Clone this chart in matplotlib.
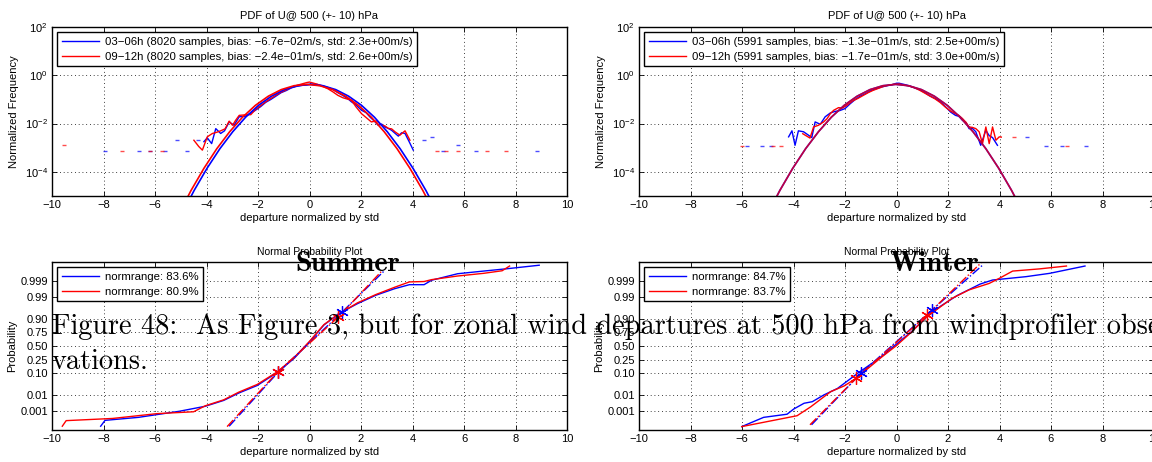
import numpy as np
import matplotlib
matplotlib.use("Agg")
import matplotlib.pyplot as plt
from statistics import NormalDist

plt.rcParams['font.family'] = ['Liberation Sans', 'DejaVu Sans']
plt.rcParams['font.size'] = 8

# ---- data: PDF panels (x = departure / std, y = normalized frequency) ----
fit_y = [1.6e-6, 1.7e-5, 1.4e-4, 9.1e-4, 4.6e-3, 1.84e-2, 5.7e-2, 0.136, 0.255, 0.37, 0.42,
         0.37, 0.255, 0.136, 5.7e-2, 1.84e-2, 4.6e-3, 9.1e-4, 1.4e-4, 1.7e-5, 1.6e-6]
fit_x_sum_b = [-4.98, -4.48, -3.98, -3.48, -2.98, -2.48, -1.98, -1.48, -0.98, -0.48, 0.02,
               0.52, 1.02, 1.52, 2.02, 2.52, 3.02, 3.52, 4.02, 4.52, 5.02]
fit_x_sum_r = [-5.1, -4.6, -4.1, -3.6, -3.1, -2.6, -2.1, -1.6, -1.1, -0.6, -0.1,
               0.4, 0.9, 1.4, 1.9, 2.4, 2.9, 3.4, 3.9, 4.4, 4.9]
fit_x_win = [-5.03, -4.53, -4.03, -3.53, -3.03, -2.53, -2.03, -1.53, -1.03, -0.53, -0.03,
             0.47, 0.97, 1.47, 1.97, 2.47, 2.97, 3.47, 3.97, 4.47, 4.97]

sum_b_x = [-4.10, -3.97, -3.80, -3.64, -3.45, -3.30, -3.12, -2.93, -2.73, -2.50, -2.30, -2.10,
           -1.90, -1.70, -1.50, -1.30, -1.10, -0.90, -0.70, -0.50, -0.30, -0.10, 0.10, 0.30,
           0.50, 0.70, 0.90, 1.10, 1.30, 1.50, 1.63, 1.80, 2.02, 2.20, 2.34, 2.50, 2.67, 2.80,
           2.93, 3.06, 3.19, 3.32, 3.45, 3.58, 3.71, 3.87, 4.03]
sum_b_y = [0.00178, 0.00257, 0.00148, 0.00617, 0.00389, 0.00501, 0.0117, 0.00851, 0.0191,
           0.0200, 0.0263, 0.0355, 0.0501, 0.0759, 0.100, 0.138, 0.191, 0.234, 0.302, 0.347,
           0.380, 0.398, 0.437, 0.417, 0.372, 0.316, 0.263, 0.191, 0.145, 0.105, 0.0794,
           0.0603, 0.0355, 0.0282, 0.0191, 0.0132, 0.00851, 0.00955, 0.00724, 0.00631,
           0.00525, 0.00398, 0.00302, 0.00417, 0.00389, 0.00178, 0.000794]
sum_r_x = [-4.49, -4.30, -4.16, -3.97, -3.77, -3.60, -3.45, -3.28, -3.12, -2.99, -2.86, -2.73,
           -2.50, -2.28, -2.10, -1.90, -1.70, -1.50, -1.30, -1.10, -0.90, -0.70, -0.50, -0.30,
           -0.10, 0.00, 0.10, 0.30, 0.50, 0.70, 0.90, 1.10, 1.30, 1.45, 1.63, 1.80, 2.02, 2.20,
           2.40, 2.60, 2.80, 2.93, 3.06, 3.19, 3.32, 3.51, 3.71, 3.90]
sum_r_y = [0.00204, 0.00112, 0.000794, 0.00282, 0.00389, 0.00437, 0.00501, 0.00603, 0.0126,
           0.00851, 0.0141, 0.0219, 0.0229, 0.0234, 0.0380, 0.0550, 0.0794, 0.110, 0.151,
           0.200, 0.251, 0.316, 0.380, 0.437, 0.501, 0.525, 0.490, 0.427, 0.355, 0.282, 0.209,
           0.148, 0.117, 0.105, 0.0933, 0.0501, 0.0257, 0.0178, 0.0117, 0.0129, 0.00851,
           0.00794, 0.00631, 0.00603, 0.00457, 0.00331, 0.00501, 0.00204]
sum_b_tail_x = [-7.94, -6.64, -6.20, -5.63, -5.13, -4.77, -4.34, 4.45, 4.74, 5.17, 5.75, 6.47, 8.85]
sum_b_tail_y = [7.1e-4, 7.1e-4, 7.1e-4, 7.1e-4, 2.1e-3, 7.1e-4, 2.1e-3, 2.1e-3, 2.7e-3,
                7.1e-4, 1.35e-3, 7.1e-4, 7.1e-4]
sum_r_tail_x = [-9.52, -7.29, -6.21, -5.72, 4.96, 5.32, 5.76, 6.90, 7.62]
sum_r_tail_y = [1.35e-3, 7.1e-4, 7.1e-4, 7.1e-4, 7.1e-4, 7.1e-4, 7.1e-4, 7.1e-4, 7.1e-4]

win_b_x = [-4.19, -4.06, -3.94, -3.81, -3.61, -3.42, -3.29, -3.16, -2.96, -2.77, -2.57, -2.40,
           -2.20, -2.00, -1.80, -1.60, -1.40, -1.20, -1.00, -0.80, -0.60, -0.40, -0.20, 0.00,
           0.10, 0.30, 0.50, 0.70, 0.90, 1.10, 1.30, 1.50, 1.70, 1.91, 2.10, 2.29, 2.42, 2.56,
           2.70, 2.82, 2.95, 3.08, 3.27, 3.47, 3.60, 3.73, 3.92]
win_b_y = [0.00282, 0.00501, 0.00126, 0.00501, 0.00457, 0.00331, 0.00263, 0.0117, 0.00933,
           0.0191, 0.0275, 0.0316, 0.0347, 0.0417, 0.0661, 0.100, 0.138, 0.174, 0.229, 0.275,
           0.324, 0.363, 0.398, 0.468, 0.468, 0.417, 0.363, 0.302, 0.251, 0.191, 0.138, 0.110,
           0.0794, 0.0490, 0.0302, 0.0219, 0.0200, 0.0138, 0.0110, 0.00617, 0.00631, 0.00457,
           0.00126, 0.00525, 0.00316, 0.00263, 0.00126]
win_r_x = [-3.64, -3.36, -3.22, -3.03, -2.83, -2.70, -2.57, -2.44, -2.25, -2.10, -1.90, -1.70,
           -1.50, -1.30, -1.10, -0.90, -0.70, -0.50, -0.30, -0.10, 0.10, 0.30, 0.50, 0.70,
           0.90, 1.10, 1.30, 1.50, 1.70, 1.90, 2.10, 2.29, 2.42, 2.56, 2.70, 2.82, 2.95, 3.08,
           3.21, 3.34, 3.47, 3.60, 3.73, 3.86, 3.99, 4.07]
win_r_y = [0.00380, 0.00251, 0.00724, 0.00851, 0.0117, 0.0158, 0.0257, 0.0355, 0.0457, 0.0437,
           0.0603, 0.0871, 0.110, 0.145, 0.191, 0.240, 0.288, 0.347, 0.389, 0.427, 0.437,
           0.398, 0.355, 0.302, 0.240, 0.182, 0.138, 0.105, 0.0741, 0.0479, 0.0331, 0.0257,
           0.0219, 0.0162, 0.0112, 0.00724, 0.00692, 0.00617, 0.00457, 0.00148, 0.00724,
           0.00148, 0.00724, 0.00204, 0.00282, 0.00275]
win_b_tail_x = [-5.79, -5.23, -4.86, 5.07, 5.79, 6.43, 7.36]
win_b_tail_y = [1.23e-3, 1.23e-3, 1.23e-3, 2.75e-3, 1.23e-3, 1.23e-3, 1.23e-3]
win_r_tail_x = [-6.00, -4.78, -4.50, 4.57, 6.64]
win_r_tail_y = [1.23e-3, 1.23e-3, 1.23e-3, 2.75e-3, 1.23e-3]

# ---- data: normal probability panels (x = departure / std, p = probability) ----
np_sum_b_x = [-8.11, -7.94, -6.64, -5.06, -4.05, -3.33, -2.75, -2.03, -1.24, -0.59, 0.00, 0.56,
              1.14, 1.86, 2.58, 3.30, 3.88, 4.45, 4.74, 5.75, 6.76, 7.62, 8.92]
np_sum_b_p = [6.7e-5, 2.0e-4, 3.4e-4, 9.4e-4, 2.05e-3, 4.8e-3, 0.0125, 0.030, 0.106, 0.281,
              0.579, 0.841, 0.939, 0.978, 0.9922, 0.9968, 0.99825, 0.99825, 0.99913, 0.99971,
              0.99982, 0.99988, 0.99994]
np_sum_r_x = [-9.60, -9.45, -7.65, -5.92, -4.50, -4.05, -3.33, -2.75, -2.03, -1.24, -0.59, 0.00,
              0.56, 1.14, 1.86, 2.58, 3.30, 3.88, 4.45, 4.74, 5.75, 6.76, 7.48, 7.77]
np_sum_r_p = [6.7e-5, 1.9e-4, 2.8e-4, 6.4e-4, 8.7e-4, 2.2e-3, 5.2e-3, 0.0139, 0.0336, 0.111,
              0.291, 0.587, 0.846, 0.936, 0.980, 0.9929, 0.9974, 0.99886, 0.99893, 0.99921,
              0.99957, 0.99973, 0.99983, 0.99993]
np_win_b_x = [-6.01, -5.16, -4.25, -3.99, -3.59, -3.27, -2.82, -2.29, -1.51, -0.57, -0.20, 0.57,
              1.14, 1.71, 2.35, 3.25, 3.73, 5.03, 5.95, 7.32]
np_win_b_p = [6.2e-5, 3.4e-4, 5.8e-4, 1.35e-3, 3.2e-3, 4.0e-3, 9.9e-3, 0.0217, 0.0968, 0.309,
              0.456, 0.749, 0.911, 0.971, 0.9918, 0.99841, 0.99916, 0.99952, 0.99973, 0.99993]
np_win_r_x = [-6.01, -3.86, -3.33, -2.55, -2.03, -1.57, -0.57, 0.00, 0.57, 1.18, 2.16, 2.81,
              3.60, 3.99, 4.51, 5.56, 6.60]
np_win_r_p = [6.2e-5, 4.5e-4, 1.9e-3, 0.015, 0.0287, 0.0618, 0.3015, 0.508, 0.742, 0.919,
              0.9884, 0.9962, 0.99856, 0.99936, 0.99982, 0.99988, 0.99993]

# reference lines (ends + the two marked points)
ref_sum_b_x = [-3.12, -1.22, 1.25, 2.92]
ref_sum_b_p = [6.7e-5, 0.105, 0.945, 0.99984]
ref_sum_r_x = [-3.20, -1.24, 1.12, 2.83]
ref_sum_r_p = [6.2e-5, 0.107, 0.916, 0.99984]
ref_win_b_x = [-3.30, -1.38, 1.37, 3.38]
ref_win_b_p = [8.8e-5, 0.097, 0.956, 0.99995]
ref_win_r_x = [-3.36, -1.57, 1.18, 3.33]
ref_win_r_p = [8.8e-5, 0.062, 0.930, 0.99997]

legend_pdf_sum = ["03\u221206h (8020 samples, bias: \u22126.7e\u221202m/s, std: 2.3e+00m/s)",
                  "09\u221212h (8020 samples, bias: \u22122.4e\u221201m/s, std: 2.6e+00m/s)"]
legend_pdf_win = ["03\u221206h (5991 samples, bias: \u22121.3e\u221201m/s, std: 2.5e+00m/s)",
                  "09\u221212h (5991 samples, bias: \u22121.7e\u221201m/s, std: 3.0e+00m/s)"]
legend_np_sum = ["normrange: 83.6%", "normrange: 80.9%"]
legend_np_win = ["normrange: 84.7%", "normrange: 83.7%"]

prob_ticks = [0.001, 0.01, 0.10, 0.25, 0.50, 0.75, 0.90, 0.99, 0.999]
prob_labels = ["0.001", "0.01", "0.10", "0.25", "0.50", "0.75", "0.90", "0.99", "0.999"]

BLUE = (0, 0, 1)
RED = (1, 0, 0)

nd = NormalDist()
_ppf = np.vectorize(nd.inv_cdf, otypes=[float])
_cdf = np.vectorize(nd.cdf, otypes=[float])


def probit(p):
    p = np.clip(np.asarray(p, dtype=float), 1e-12, 1 - 1e-12)
    return _ppf(p)


def unprobit(z):
    return _cdf(np.asarray(z, dtype=float))


def style_axes(ax):
    ax.set_xlim(-10, 10)
    ax.set_xticks(range(-10, 11, 2))
    ax.grid(True, color='k', linestyle=(0, (1, 3.5)), linewidth=0.6)
    ax.tick_params(direction='in', top=True, right=True, length=3.5, width=0.6, pad=3,
                   labelsize=8)
    for s in ax.spines.values():
        s.set_linewidth(1.0)
    ax.set_xlabel("departure normalized by std", fontsize=8, labelpad=2)


def add_legend(ax, handles, labels):
    leg = ax.legend(handles, labels, loc='upper left', fontsize=8.2, frameon=True,
                    fancybox=False, framealpha=1, edgecolor='k', borderpad=0.4,
                    labelspacing=0.45, handlelength=3.3, handletextpad=0.5,
                    borderaxespad=0.45)
    leg.get_frame().set_linewidth(1.0)


def pdf_panel(ax, fxb, fxr, bx, by, rx, ry, btx, bty, rtx, rty, labels, merged):
    lb, = ax.plot(bx, by, color=BLUE, lw=1.0)
    lr, = ax.plot(rx, ry, color=RED, lw=1.0)
    ax.plot(fxb, fit_y, color=BLUE, lw=1.2)
    ax.plot(fxr, fit_y, color=RED, lw=1.2, alpha=0.75 if merged else 1.0)
    ax.plot(btx, bty, ls='none', marker='_', ms=3, mew=1, color=BLUE, alpha=0.7)
    ax.plot(rtx, rty, ls='none', marker='_', ms=3, mew=1, color=RED, alpha=0.7)
    ax.set_yscale('log')
    ax.set_ylim(1e-5, 1e2)
    ax.set_yticks([1e-4, 1e-2, 1e0, 1e2])
    ax.minorticks_off()
    style_axes(ax)
    ax.set_ylabel("Normalized Frequency", fontsize=8)
    ax.set_title("PDF of U@ 500 (+- 10) hPa", fontsize=8, pad=6)
    add_legend(ax, [lb, lr], labels)


def np_panel(ax, bx, bp, rx, rp, rbx, rbp, rrx, rrp, labels):
    lb, = ax.plot(bx, bp, color=BLUE, lw=1.0)
    lr, = ax.plot(rx, rp, color=RED, lw=1.0)
    ax.plot(rbx, rbp, color=BLUE, lw=1.0, ls='-.')
    ax.plot(rrx, rrp, color=RED, lw=1.0, ls='-.')
    ax.plot(rbx[1:3], rbp[1:3], ls='none', marker=(6, 2, 0), ms=9, mew=0.9, color=BLUE)
    ax.plot(rrx[1:3], rrp[1:3], ls='none', marker=(6, 2, 0), ms=9, mew=0.9, color=RED)
    ax.set_yscale('function', functions=(probit, unprobit))
    ax.set_ylim(3.17e-5, 1 - 3.17e-5)
    ax.set_yticks(prob_ticks)
    ax.set_yticklabels(prob_labels)
    ax.minorticks_off()
    style_axes(ax)
    ax.set_ylabel("Probability", fontsize=8, labelpad=2)
    ax.set_title("Normal Probability Plot", fontsize=7.5, pad=5)
    add_legend(ax, [lb, lr], labels)


fig = plt.figure(figsize=(11.52, 4.62), dpi=100)
W, H = 1152.0, 462.0
ax1 = fig.add_axes([52 / W, 1 - 196 / H, 515 / W, 169 / H])
ax2 = fig.add_axes([639 / W, 1 - 196 / H, 515 / W, 169 / H])
ax3 = fig.add_axes([52 / W, 1 - 430 / H, 515 / W, 168 / H])
ax4 = fig.add_axes([639 / W, 1 - 430 / H, 515 / W, 168 / H])

pdf_panel(ax1, fit_x_sum_b, fit_x_sum_r, sum_b_x, sum_b_y, sum_r_x, sum_r_y,
          sum_b_tail_x, sum_b_tail_y, sum_r_tail_x, sum_r_tail_y, legend_pdf_sum, False)
pdf_panel(ax2, fit_x_win, fit_x_win, win_b_x, win_b_y, win_r_x, win_r_y,
          win_b_tail_x, win_b_tail_y, win_r_tail_x, win_r_tail_y, legend_pdf_win, True)
np_panel(ax3, np_sum_b_x, np_sum_b_p, np_sum_r_x, np_sum_r_p,
         ref_sum_b_x, ref_sum_b_p, ref_sum_r_x, ref_sum_r_p, legend_np_sum)
np_panel(ax4, np_win_b_x, np_win_b_p, np_win_r_x, np_win_r_p,
         ref_win_b_x, ref_win_b_p, ref_win_r_x, ref_win_r_p, legend_np_win)

# overlaid document text (season headers and caption)
fig.text(348 / W, 1 - 271 / H, "Summer", family='cmb10', fontsize=20.5, ha='center',
         va='baseline')
fig.text(934 / W, 1 - 271 / H, "Winter", family='cmb10', fontsize=20.5, ha='center',
         va='baseline')
fig.text(52 / W, 1 - 334 / H,
         "Figure 48:  As Figure 3, but for zonal wind departures at 500 hPa from windprofiler obser-",
         family='cmr10', fontsize=20.4, ha='left', va='baseline')
fig.text(52 / W, 1 - 369 / H, "vations.", family='cmr10', fontsize=20.4, ha='left',
         va='baseline')

fig.savefig("out.png", dpi=100)
